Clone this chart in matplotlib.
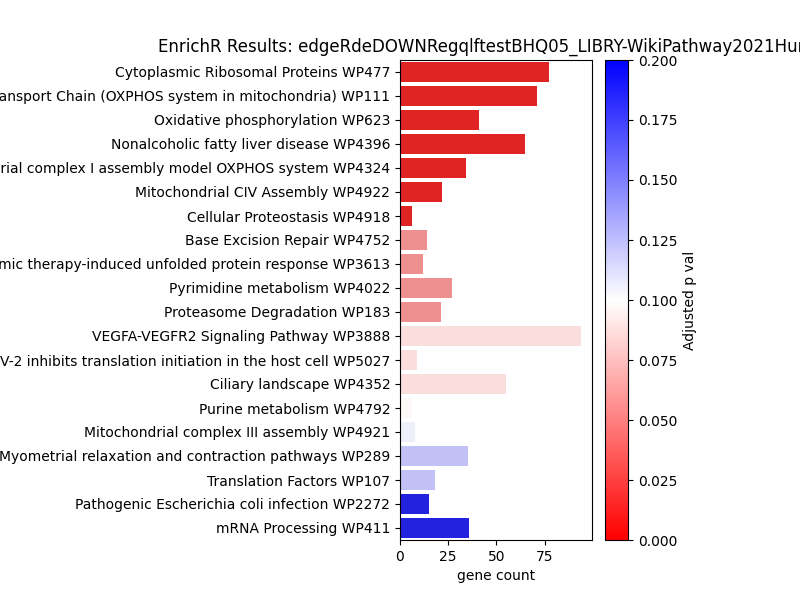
import matplotlib
matplotlib.use("Agg")
import matplotlib.pyplot as plt
import seaborn as sns
import numpy as np

terms = ["Cytoplasmic Ribosomal Proteins WP477",
 "Electron Transport Chain (OXPHOS system in mitochondria) WP111",
 "Oxidative phosphorylation WP623",
 "Nonalcoholic fatty liver disease WP4396",
 "Mitochondrial complex I assembly model OXPHOS system WP4324",
 "Mitochondrial CIV Assembly WP4922",
 "Cellular Proteostasis WP4918",
 "Base Excision Repair WP4752",
 "Photodynamic therapy-induced unfolded protein response WP3613",
 "Pyrimidine metabolism WP4022",
 "Proteasome Degradation WP183",
 "VEGFA-VEGFR2 Signaling Pathway WP3888",
 "SARS-CoV-2 inhibits translation initiation in the host cell WP5027",
 "Ciliary landscape WP4352",
 "Purine metabolism WP4792",
 "Mitochondrial complex III assembly WP4921",
 "Myometrial relaxation and contraction pathways WP289",
 "Translation Factors WP107",
 "Pathogenic Escherichia coli infection WP2272",
 "mRNA Processing WP411"]
counts = [77, 71, 41, 65, 34, 22, 6, 14, 12, 27, 21, 94, 9, 55, 6, 8, 35, 18, 15, 36]
padj = [0.002, 0.002, 0.002, 0.002, 0.002, 0.002, 0.002, 0.05, 0.05, 0.05, 0.05,
        0.085, 0.085, 0.085, 0.097, 0.107, 0.128, 0.128, 0.199, 0.199]

fig = plt.figure(figsize=(8, 6), dpi=100)
ax = fig.add_axes([0.5, 0.1, 0.24, 0.8])
cax = fig.add_axes([0.756, 0.1, 0.029, 0.8])
cmap = plt.get_cmap("bwr_r")
norm = matplotlib.colors.Normalize(0, 0.2)
colors = [sns.desaturate(cmap(norm(p)), 0.75) for p in padj]
y = np.arange(len(terms))
ax.barh(y, counts, color=colors, height=0.8)
ax.set_yticks(y)
ax.set_yticklabels(terms)
ax.set_ylim(len(terms) - 0.5, -0.5)
ax.set_xlim(0, 99.5)
ax.set_xticks([0, 25, 50, 75])
ax.set_xlabel("gene count")
ax.set_title("EnrichR Results: edgeRdeDOWNRegqlftestBHQ05_LIBRY-WikiPathway2021Human")
sm = matplotlib.cm.ScalarMappable(norm=norm, cmap=cmap)
cb = fig.colorbar(sm, cax=cax)
cb.set_label("Adjusted p val")
fig.savefig("out.png")
